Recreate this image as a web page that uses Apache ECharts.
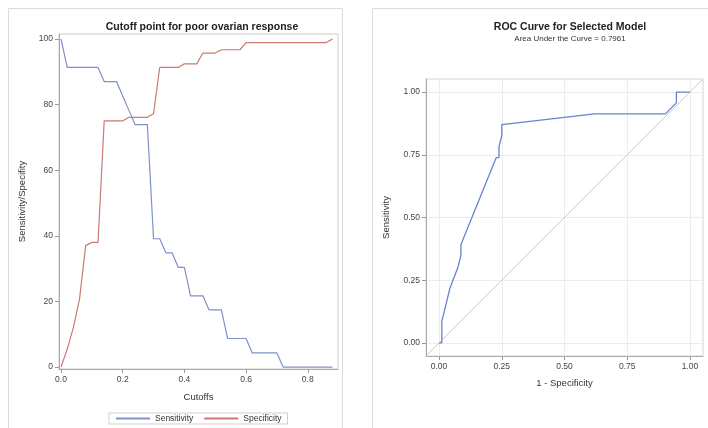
<!DOCTYPE html>
<html>
<head>
<meta charset="utf-8">
<script src="https://cdn.jsdelivr.net/npm/echarts@6/dist/echarts.min.js"></script>
<style>
  html, body { margin: 0; padding: 0; background: #fff; }
  #chart { width: 708px; height: 428px; }
</style>
</head>
<body>
<div id="chart"></div>
<script>
// cutoff chart
const cutoffs = [0.00, 0.02, 0.04, 0.06, 0.08, 0.10, 0.12, 0.14, 0.16, 0.18, 0.20, 0.22, 0.24, 0.26, 0.28,
  0.30, 0.32, 0.34, 0.36, 0.38, 0.40, 0.42, 0.44, 0.46, 0.48, 0.50, 0.52, 0.54, 0.56, 0.58,
  0.60, 0.62, 0.64, 0.66, 0.68, 0.70, 0.72, 0.74, 0.76, 0.78, 0.80, 0.82, 0.84, 0.86, 0.88]
const sensitivity = [100, 91.3, 91.3, 91.3, 91.3, 91.3, 91.3, 87.0, 87.0, 87.0, 82.6, 78.3, 73.9, 73.9, 73.9,
  39.1, 39.1, 34.8, 34.8, 30.4, 30.4, 21.7, 21.7, 21.7, 17.4, 17.4, 17.4, 8.7, 8.7, 8.7,
  8.7, 4.3, 4.3, 4.3, 4.3, 4.3, 0, 0, 0, 0, 0, 0, 0, 0, 0]
const specificity = [0, 5.4, 12.0, 20.7, 37.0, 38.0, 38.0, 75.0, 75.0, 75.0, 75.0, 76.1, 76.1, 76.1, 76.1,
  77.2, 91.3, 91.3, 91.3, 91.3, 92.4, 92.4, 92.4, 95.7, 95.7, 95.7, 96.7, 96.7, 96.7, 96.7,
  98.9, 98.9, 98.9, 98.9, 98.9, 98.9, 98.9, 98.9, 98.9, 98.9, 98.9, 98.9, 98.9, 98.9, 100]
const cutoffTicks = [0, 0.2, 0.4, 0.6, 0.8]
const percentTicks = [0, 20, 40, 60, 80, 100]

// ROC chart
const rocFpr = [0, 0.011, 0.011, 0.022, 0.043, 0.076, 0.087, 0.087, 0.228, 0.239, 0.239, 0.25, 0.25, 0.62, 0.902, 0.946, 0.946, 1.0]
const rocTpr = [0, 0, 0.087, 0.13, 0.217, 0.304, 0.348, 0.391, 0.739, 0.739, 0.783, 0.826, 0.87, 0.913, 0.913, 0.957, 1.0, 1.0]
const diagonal = [-0.052, 1.052]
const rocTicks = [0, 0.25, 0.5, 0.75, 1]

const font = "'Liberation Sans', Arial, sans-serif"
const tickLabel = { fontSize: 8.5, color: '#444', fontFamily: font }
const axisName = { fontSize: 9.5, color: '#333', fontFamily: font }
const sensColor = '#8090c8'
const specColor = '#c97a71'

let myChart = echarts.init(document.getElementById('chart'), null, { renderer: 'canvas' })

let option = {
  animation: false,
  textStyle: { fontFamily: font },
  graphic: [
    { type: 'rect', shape: { x: 8.5, y: 8.5, width: 334, height: 440 }, style: { fill: 'none', stroke: '#dcdcdc', lineWidth: 1 } },
    { type: 'rect', shape: { x: 372.5, y: 8.5, width: 360, height: 440 }, style: { fill: 'none', stroke: '#dcdcdc', lineWidth: 1 } }
  ],
  title: [
    {
      text: 'Cutoff point for poor ovarian response',
      left: 197, top: 17, textAlign: 'center',
      textStyle: { fontSize: 10.5, fontWeight: 'bold', color: '#222', fontFamily: font }
    },
    {
      text: 'ROC Curve for Selected Model',
      subtext: 'Area Under the Curve = 0.7961',
      left: 565, top: 17, textAlign: 'center', itemGap: 2,
      textStyle: { fontSize: 10.5, fontWeight: 'bold', color: '#222', fontFamily: font },
      subtextStyle: { fontSize: 8, color: '#333', fontFamily: font }
    }
  ],
  legend: {
    data: ['Sensitivity', 'Specificity'],
    left: 109, top: 413,
    padding: [1, 6],
    itemGap: 10,
    itemWidth: 34, itemHeight: 10,
    itemStyle: { opacity: 0 },
    borderColor: '#cfcfcf', borderWidth: 1,
    textStyle: { fontSize: 8.5, color: '#333', fontFamily: font }
  },
  grid: [
    { left: 59, top: 34, width: 279, height: 335, show: true, borderColor: '#cccccc', borderWidth: 1 },
    { left: 426, top: 79, width: 277, height: 277, show: true, borderColor: '#d4d4d4', borderWidth: 1 }
  ],
  xAxis: [
    {
      gridIndex: 0, type: 'value', min: -0.0065, max: 0.898,
      name: 'Cutoffs', nameLocation: 'middle', nameGap: 23, nameTextStyle: axisName,
      axisLine: { show: true, onZero: false, lineStyle: { color: '#aaa' } },
      axisTick: { show: true, length: 4, customValues: cutoffTicks, lineStyle: { color: '#999' } },
      axisLabel: { customValues: cutoffTicks, margin: 6, formatter: v => v.toFixed(1), ...tickLabel },
      splitLine: { show: false }
    },
    {
      gridIndex: 1, type: 'value', min: -0.052, max: 1.052,
      name: '1 - Specificity', nameLocation: 'middle', nameGap: 22, nameTextStyle: axisName,
      axisLine: { show: true, onZero: false, lineStyle: { color: '#aaa' } },
      axisTick: { show: true, length: 4, customValues: rocTicks, lineStyle: { color: '#999' } },
      axisLabel: { customValues: rocTicks, margin: 6, formatter: v => v.toFixed(2), ...tickLabel },
      splitLine: { show: true, lineStyle: { color: '#ececec' } }
    }
  ],
  yAxis: [
    {
      gridIndex: 0, type: 'value', min: -0.6, max: 101.5,
      name: 'Sensitivity/Specifity', nameLocation: 'middle', nameGap: 32, nameTextStyle: axisName,
      axisLine: { show: true, onZero: false, lineStyle: { color: '#aaa' } },
      axisTick: { show: true, length: 4, customValues: percentTicks, lineStyle: { color: '#999' } },
      axisLabel: { customValues: percentTicks, margin: 6, ...tickLabel },
      splitLine: { show: false }
    },
    {
      gridIndex: 1, type: 'value', min: -0.052, max: 1.052,
      name: 'Sensitivity', nameLocation: 'middle', nameGap: 35, nameTextStyle: axisName,
      axisLine: { show: true, onZero: false, lineStyle: { color: '#aaa' } },
      axisTick: { show: true, length: 4, customValues: rocTicks, lineStyle: { color: '#999' } },
      axisLabel: { customValues: rocTicks, margin: 6, formatter: v => v.toFixed(2), ...tickLabel },
      splitLine: { show: true, lineStyle: { color: '#ececec' } }
    }
  ],
  series: [
    {
      name: 'Sensitivity', type: 'line', xAxisIndex: 0, yAxisIndex: 0,
      symbol: 'none', lineStyle: { color: sensColor, width: 1.2 }, itemStyle: { color: sensColor },
      data: cutoffs.map((c, i) => [c, sensitivity[i]])
    },
    {
      name: 'Specificity', type: 'line', xAxisIndex: 0, yAxisIndex: 0,
      symbol: 'none', lineStyle: { color: specColor, width: 1.2 }, itemStyle: { color: specColor },
      data: cutoffs.map((c, i) => [c, specificity[i]])
    },
    {
      name: 'Reference', type: 'line', xAxisIndex: 1, yAxisIndex: 1,
      symbol: 'none', silent: true, lineStyle: { color: '#c8c8c8', width: 1 },
      data: diagonal.map(v => [v, v])
    },
    {
      name: 'ROC', type: 'line', xAxisIndex: 1, yAxisIndex: 1,
      symbol: 'none', lineStyle: { color: '#6685cc', width: 1.3 },
      data: rocFpr.map((x, i) => [x, rocTpr[i]])
    }
  ]
}

option && myChart.setOption(option)
</script>
</body>
</html>
